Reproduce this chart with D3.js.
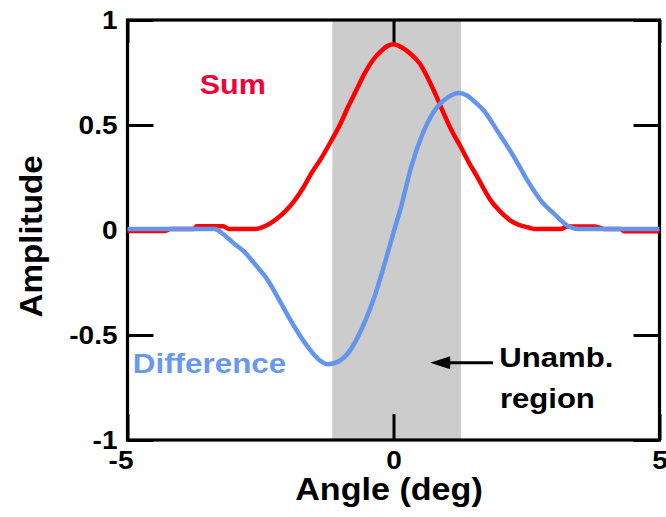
<!DOCTYPE html>
<html>
<head>
<meta charset="utf-8">
<script src="https://cdn.jsdelivr.net/npm/d3@7"></script>
<style>
  html, body { margin: 0; padding: 0; background: #fff; }
  svg { display: block; font-family: "Liberation Sans", Arial, Helvetica, sans-serif; font-weight: bold; }
</style>
</head>
<body>
<svg id="chart" width="666" height="517"></svg>
<script>
// Monopulse sum / difference patterns versus angle
const sumAngle = [-5, -4.3, -4.2, -3.75, -3.7, -3.2, -3.1, -2.6, -2.4, -2.24, -2.05, -1.86, -1.7, -1.55, -1.35, -1.17, -1.0, -0.86, -0.7, -0.55, -0.4, -0.23, -0.1, 0, 0.15, 0.33, 0.5, 0.64, 0.8, 0.95, 1.1, 1.27, 1.42, 1.58, 1.7, 1.83, 2.0, 2.2, 2.35, 2.52, 2.64, 3.14, 3.27, 3.77, 3.96, 4.28, 4.33, 5];
const sumAmp = [-0.005, -0.005, 0.005, 0.005, 0.018, 0.018, 0.005, 0.005, 0.02, 0.045, 0.085, 0.14, 0.2, 0.267, 0.345, 0.425, 0.505, 0.583, 0.665, 0.742, 0.805, 0.853, 0.878, 0.885, 0.87, 0.837, 0.79, 0.726, 0.64, 0.552, 0.47, 0.393, 0.32, 0.251, 0.195, 0.14, 0.09, 0.045, 0.025, 0.013, 0.005, 0.005, 0.017, 0.017, 0.005, 0.005, -0.006, -0.006];

const diffAngle = [-5, -3.36, -3.2, -2.99, -2.8, -2.61, -2.36, -2.11, -1.86, -1.61, -1.39, -1.23, -1.05, -0.86, -0.61, -0.36, -0.11, 0.0, 0.14, 0.33, 0.52, 0.77, 1.02, 1.23, 1.39, 1.55, 1.70, 1.95, 2.27, 2.52, 2.77, 3.02, 3.27, 3.46, 5];
const diffAmp = [0.005, 0.005, -0.02, -0.066, -0.105, -0.161, -0.24, -0.351, -0.462, -0.557, -0.62, -0.639, -0.628, -0.588, -0.477, -0.319, -0.11, -0.012, 0.108, 0.298, 0.441, 0.568, 0.631, 0.652, 0.639, 0.605, 0.568, 0.473, 0.346, 0.235, 0.14, 0.077, 0.021, 0.005, 0.005];

// Unambiguous angle region (between the difference extrema)
const unambRegion = [-1.15, 1.27];

const xTicks = [-5, 0, 5];
const xTickLabels = ["-5", "0", "5"];
const yTicks = [-1, -0.5, 0, 0.5, 1];
const yTickLabels = ["-1", "-0.5", "0", "0.5", "1"];

const margin = { left: 127.5, right: 6.5, top: 20, bottom: 77 };
const W = 666, H = 517;
const svg = d3.select("#chart");

const x = d3.scaleLinear().domain([-5, 5]).range([margin.left, W - margin.right]);
const y = d3.scaleLinear().domain([-1, 1]).range([H - margin.bottom, margin.top]);

// widen glyphs slightly, as the typeface here is drawn broad
const widen = (sel, k) => sel.each(function () {
  const len = this.getComputedTextLength();
  this.setAttribute("textLength", len * k);
  this.setAttribute("lengthAdjust", "spacingAndGlyphs");
});

// shaded region
svg.append("rect")
  .attr("x", x(unambRegion[0]))
  .attr("y", y(1))
  .attr("width", x(unambRegion[1]) - x(unambRegion[0]))
  .attr("height", y(-1) - y(1))
  .attr("fill", "#cccccc");

// axes with inward ticks on all four sides
const tickLen = 26;
const axisStyle = g => {
  g.selectAll(".domain").remove();
  g.selectAll(".tick line").attr("stroke", "#000").attr("stroke-width", 3);
  g.selectAll(".tick text").attr("fill", "#000").style("font-size", "25px").style("font-weight", "bold")
    .style("font-family", '"Liberation Sans", Arial, sans-serif');
};

const gLeft = svg.append("g").attr("transform", `translate(${x(-5)},0)`)
  .call(d3.axisLeft(y).tickValues(yTicks).tickSize(-tickLen).tickPadding(10)
    .tickFormat((d, i) => yTickLabels[i]))
  .call(axisStyle);
gLeft.selectAll(".tick text").attr("dy", "0.34em");
widen(gLeft.selectAll(".tick text"), 1.12);

svg.append("g").attr("transform", `translate(${x(5)},0)`)
  .call(d3.axisRight(y).tickValues(yTicks).tickSize(-tickLen).tickFormat(""))
  .call(axisStyle);

const gBottom = svg.append("g").attr("transform", `translate(0,${y(-1)})`)
  .call(d3.axisBottom(x).tickValues(xTicks).tickSize(-tickLen).tickPadding(11)
    .tickFormat((d, i) => xTickLabels[i]))
  .call(axisStyle);
gBottom.selectAll(".tick text").attr("dx", d => d < 0 ? -7 : 0);
widen(gBottom.selectAll(".tick text"), 1.12);

svg.append("g").attr("transform", `translate(0,${y(1)})`)
  .call(d3.axisTop(x).tickValues(xTicks).tickSize(-tickLen + 3).tickFormat(""))
  .call(axisStyle);

// frame
svg.append("rect")
  .attr("x", x(-5)).attr("y", y(1))
  .attr("width", x(5) - x(-5)).attr("height", y(-1) - y(1))
  .attr("fill", "none").attr("stroke", "#000").attr("stroke-width", 3.2);

// curves
const line = d3.line().x(d => x(d[0])).y(d => y(d[1])).curve(d3.curveMonotoneX);
const sumPts = sumAngle.map((a, i) => [a, sumAmp[i]]);
const diffPts = diffAngle.map((a, i) => [a, diffAmp[i]]);

svg.append("path").datum(sumPts).attr("d", line)
  .attr("fill", "none").attr("stroke", "#ff0000").attr("stroke-width", 4.5)
  .attr("stroke-linejoin", "round");
svg.append("path").datum(diffPts).attr("d", line)
  .attr("fill", "none").attr("stroke", "#6495ed").attr("stroke-width", 4.5)
  .attr("stroke-linejoin", "round");

// series labels
const sumLabel = svg.append("text").attr("x", x(-3.02)).attr("y", y(0.649))
  .attr("text-anchor", "middle").attr("fill", "#f20038").style("font-size", "28px").text("Sum");
widen(sumLabel, 1.09);

const diffLabel = svg.append("text").attr("x", x(-4.9)).attr("y", y(-0.68))
  .attr("fill", "#6a98f0").style("font-size", "28px").text("Difference");
widen(diffLabel, 1.12);

// region annotation with arrow
const ann = svg.append("g");
const ay = y(-0.632);
ann.append("line")
  .attr("x1", x(1.87)).attr("x2", x(0.98))
  .attr("y1", ay).attr("y2", ay)
  .attr("stroke", "#000").attr("stroke-width", 3);
const tipX = x(0.69);
ann.append("path")
  .attr("d", `M${tipX},${ay} L${tipX + 20},${ay - 6.5} L${tipX + 20},${ay + 6.5} Z`)
  .attr("fill", "#000");
const t1 = ann.append("text").attr("x", x(1.99)).attr("y", y(-0.653))
  .style("font-size", "28px").attr("fill", "#000").text("Unamb.");
widen(t1, 1.11);
const t2 = ann.append("text").attr("x", x(2.0)).attr("y", y(-0.848))
  .style("font-size", "28px").attr("fill", "#000").text("region");
widen(t2, 1.11);

// axis titles
const xt = svg.append("text").attr("x", 389).attr("y", 500)
  .attr("text-anchor", "middle").style("font-size", "31px").attr("fill", "#000").text("Angle (deg)");
widen(xt, 1.1);
const yt = svg.append("text")
  .attr("transform", `translate(42,${y(-0.03)}) rotate(-90)`)
  .attr("text-anchor", "middle").style("font-size", "31px").attr("fill", "#000").text("Amplitude");
widen(yt, 1.07);
</script>
</body>
</html>
